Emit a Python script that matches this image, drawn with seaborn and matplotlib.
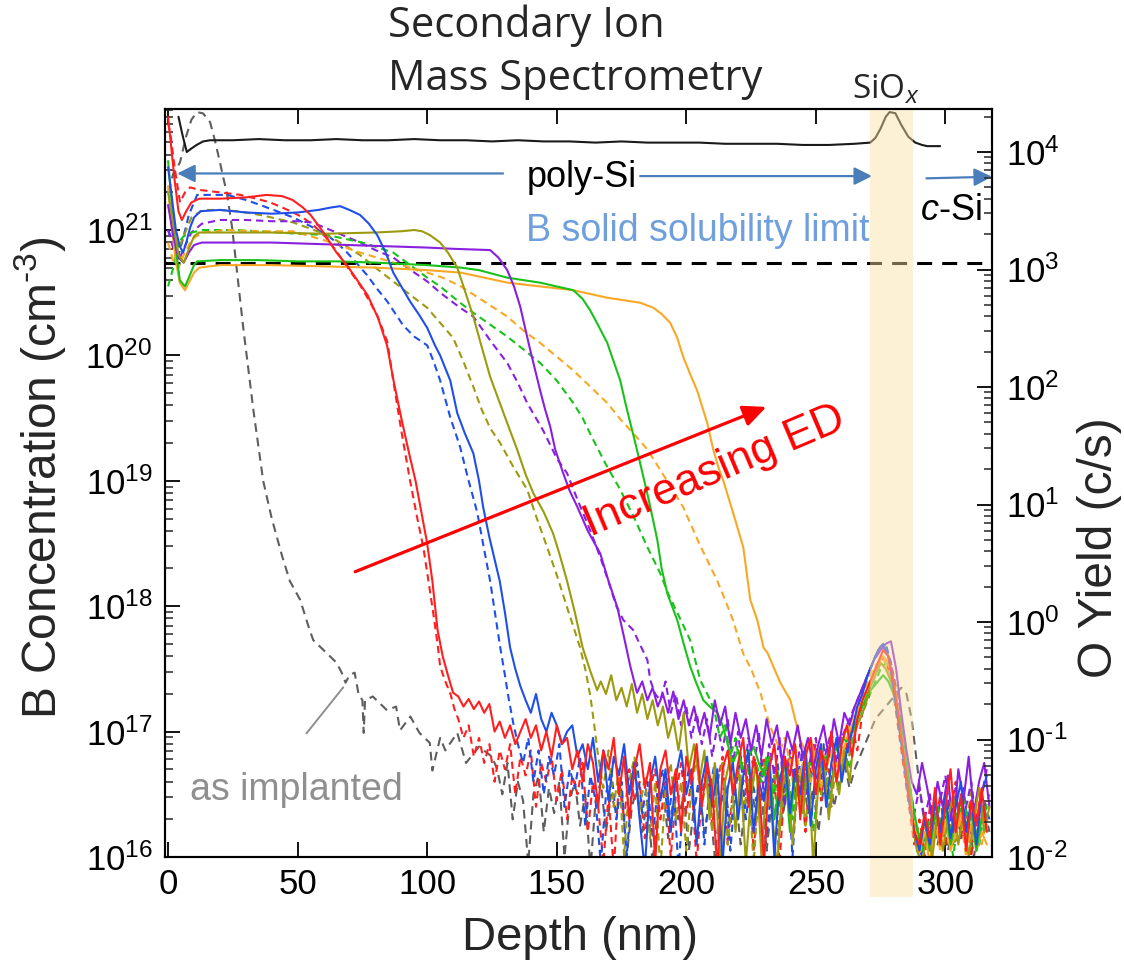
import numpy as np
import pandas as pd
import matplotlib
matplotlib.use("Agg")
import matplotlib.pyplot as plt
import matplotlib.transforms as mtransforms
from matplotlib.patches import Rectangle
from matplotlib.ticker import FixedLocator, NullFormatter, NullLocator, FuncFormatter
import seaborn as sns

# ---------------------------------------------------------------------------
# SIMS boron depth profiles.  Each profile: depth (nm) and log10 of the
# B concentration (cm^-3) through the diffusion front, followed by the
# noise-floor tail sampled every TAIL_STEP nm from the given start depth.
# ---------------------------------------------------------------------------
TAIL_STEP = 2.0

red_solid_depth = [0, 1, 2.5, 4, 5.3, 7, 9, 12, 20, 30, 38, 44, 48, 52, 55, 60, 65, 69, 73, 77,
                   81, 84.5, 87, 90, 93, 95.5, 98, 100, 102, 104, 106, 108, 110, 112]
red_solid_log = [21.90, 21.70, 21.40, 21.15, 21.08, 21.15, 21.22, 21.25, 21.25, 21.26,
                 21.28, 21.27, 21.24, 21.18, 21.12, 20.98, 20.82, 20.72, 20.60, 20.48,
                 20.30, 20.08, 19.80, 19.50, 19.22, 19.00, 18.72, 18.50, 18.20, 17.81,
                 17.60, 17.45, 17.31, 17.28]
red_solid_tail_start = 114
red_solid_tail = [17.20, 17.26, 17.18, 17.24, 17.15, 17.22, 17.00, 17.08, 16.95, 17.05,
                  16.90, 17.00, 17.10, 16.95, 17.05, 16.85, 17.00, 16.80, 17.05, 16.90,
                  16.95, 16.70, 16.85, 16.60, 16.90, 16.75, 16.40, 16.85, 16.70, 16.95,
                  16.50, 16.80, 16.30, 16.70, 16.90, 16.55, 16.75, 15.95, 16.70, 16.85,
                  16.50, 16.70, 16.20, 16.80, 16.60, 16.90, 16.40, 16.75, 16.55, 15.90,
                  16.70, 16.85, 16.50, 16.75, 16.95, 16.40, 16.80, 16.60, 15.95, 16.70,
                  16.90, 16.45, 16.80, 16.65, 16.90, 16.30, 16.80, 16.95, 16.50, 16.85,
                  16.70, 17.00, 16.60, 16.90, 17.05, 16.80, 17.10, 17.25, 17.35, 17.45,
                  17.55, 17.65, 17.60, 17.40, 17.10, 16.80, 16.50, 16.20, 16.10, 16.35,
                  16.15, 16.55, 16.10, 16.40, 16.70, 16.20, 16.50, 16.05, 16.45, 16.25,
                  16.55, 16.20]

red_dash_depth = [0, 1, 2.5, 4.6, 6.5, 8.5, 12, 20, 28, 34, 39.4, 44, 48.3, 52, 56, 61, 65.3,
                  70, 74.1, 77.5, 80.7, 84.6, 86.9, 90, 93.4, 96, 98.5, 100.5, 102.3, 104,
                  105, 107, 109, 110.5]
red_dash_log = [21.85, 21.75, 21.50, 21.22, 21.30, 21.34, 21.32, 21.30, 21.28, 21.25,
                21.22, 21.18, 21.14, 21.10, 21.04, 20.94, 20.82, 20.68, 20.56, 20.44,
                20.32, 20.11, 19.80, 19.40, 19.00, 18.72, 18.47, 18.20, 17.95, 17.70,
                17.52, 17.40, 17.30, 17.18]
red_dash_tail_start = 112
red_dash_tail = [17.10, 16.95, 17.05, 16.80, 16.95, 16.75, 16.90, 16.60, 16.85, 16.70,
                 16.90, 16.50, 16.80, 16.65, 16.85, 16.40, 16.75, 16.60, 16.80, 16.45,
                 16.70, 16.30, 16.65, 16.50, 16.75, 16.20, 16.60, 16.40, 15.95, 16.50,
                 15.90, 16.60, 16.30, 16.70, 16.45, 16.60, 16.15, 16.55, 16.70, 16.30,
                 16.60, 16.00, 16.50, 16.75, 16.35, 16.60, 15.95, 16.50, 16.70, 16.25,
                 16.60, 16.80, 16.10, 16.55, 16.70, 16.35, 16.75, 16.05, 16.60, 16.80,
                 16.40, 16.65, 15.95, 16.60, 16.85, 16.50, 16.70, 16.20, 16.75, 16.90,
                 16.45, 16.80, 16.60, 16.95, 16.70, 16.90, 17.05, 16.85, 17.15, 17.30,
                 17.40, 17.50, 17.60, 17.50, 17.30, 17.00, 16.70, 16.40, 16.10, 16.30,
                 16.00, 16.40, 16.20, 16.50, 16.10, 16.35, 16.60, 16.15, 16.40, 16.00,
                 16.35, 16.50, 16.20]

blue_solid_depth = [0, 1.5, 3, 4.5, 5.8, 7, 8.5, 10, 12.5, 20, 30, 40, 50, 58, 63, 66.4, 70,
                    74.1, 77.5, 80.7, 84, 86.9, 90, 93.4, 97, 100, 103, 105, 108.9, 111.6,
                    114.5, 117.8, 120, 121.6, 124, 128, 130, 132, 134, 136]
blue_solid_log = [21.50, 21.25, 21.00, 20.87, 20.82, 20.90, 21.02, 21.10, 21.15, 21.16,
                  21.14, 21.13, 21.14, 21.16, 21.18, 21.19, 21.16, 21.12, 21.05, 20.96,
                  20.82, 20.66, 20.55, 20.43, 20.32, 20.22, 20.08, 20.00, 19.80, 19.54,
                  19.38, 19.22, 19.00, 18.79, 18.55, 18.20, 17.95, 17.67, 17.50, 17.36]
blue_solid_tail_start = 138
blue_solid_tail = [17.25, 17.15, 17.30, 17.10, 17.00, 17.15, 17.05, 16.90, 17.00, 17.05,
                   16.80, 16.90, 16.70, 16.95, 16.60, 16.85, 16.45, 16.80, 16.65, 16.90,
                   16.50, 16.75, 16.30, 15.90, 16.60, 16.80, 16.45, 16.70, 16.20, 16.65,
                   16.85, 16.50, 16.70, 16.10, 16.60, 16.80, 16.40, 16.70, 15.95, 16.55,
                   16.75, 16.30, 16.65, 16.85, 16.20, 16.60, 16.45, 16.75, 16.00, 16.60,
                   16.80, 16.35, 16.70, 16.50, 16.85, 16.25, 16.70, 16.90, 16.40, 16.75,
                   16.95, 16.60, 16.85, 17.00, 17.20, 17.30, 17.45, 17.55, 17.65, 17.70,
                   17.60, 17.35, 17.05, 16.75, 16.45, 16.20, 16.05, 16.30, 16.10, 16.45,
                   16.20, 16.50, 16.15, 16.40, 16.60, 16.20, 16.45, 16.10, 16.50, 16.65]

blue_dash_depth = [0, 2, 4, 6, 8, 11.2, 16, 22.8, 30, 35.5, 42, 48.3, 55, 61.4, 65, 69.1, 73,
                   76.8, 80.7, 84.6, 87.5, 90.7, 95, 100, 102.5, 105, 109, 112.7, 116, 119.3,
                   122, 124.3, 126.5, 128.2, 130, 131.3, 133.2]
blue_dash_log = [21.00, 20.90, 20.80, 20.95, 21.12, 21.28, 21.28, 21.28, 21.24, 21.20,
                 21.15, 21.10, 21.03, 20.96, 20.90, 20.82, 20.73, 20.64, 20.53, 20.43,
                 20.34, 20.24, 20.15, 20.08, 19.95, 19.80, 19.50, 19.27, 19.00, 18.75,
                 18.45, 18.20, 17.90, 17.67, 17.45, 17.28, 17.07]
blue_dash_tail_start = 135
blue_dash_tail = [16.90, 16.75, 16.95, 16.60, 16.85, 16.50, 16.80, 16.65, 16.90, 16.40,
                  16.70, 16.55, 16.80, 16.25, 16.65, 16.45, 15.95, 16.50, 16.70, 16.30,
                  16.60, 16.00, 16.55, 16.75, 16.35, 16.60, 16.15, 16.55, 16.70, 16.30,
                  16.60, 15.90, 16.50, 16.70, 16.35, 16.65, 16.10, 16.55, 16.75, 16.40,
                  16.60, 16.05, 16.55, 16.80, 16.30, 16.65, 16.45, 16.75, 16.15, 16.60,
                  16.80, 16.40, 16.70, 16.00, 16.65, 16.85, 16.45, 16.75, 16.55, 16.90,
                  16.35, 16.75, 16.95, 16.70, 16.90, 17.10, 17.25, 17.40, 17.50, 17.60,
                  17.68, 17.70, 17.55, 17.30, 17.00, 16.70, 16.40, 16.15, 16.00, 16.25,
                  16.05, 16.40, 16.15, 16.45, 16.10, 16.35, 16.55, 16.20, 16.40, 16.10,
                  16.45, 16.30]

olive_solid_depth = [0, 2, 4, 6, 8, 10, 12, 20, 40, 60, 80, 90, 95, 98, 101, 105, 108, 111.6,
                     114, 117.8, 121, 124.3, 127.5, 130.9, 134.7, 138, 141, 145, 148.6, 151,
                     154, 157, 160, 163, 165.6]
olive_solid_log = [21.30, 21.05, 20.80, 20.74, 20.85, 20.95, 20.98, 20.98, 20.98, 20.97,
                   20.98, 20.99, 21.00, 20.99, 20.96, 20.90, 20.82, 20.70, 20.55, 20.31,
                   20.07, 19.83, 19.65, 19.46, 19.25, 19.05, 18.90, 18.75, 18.58, 18.42,
                   18.20, 17.95, 17.67, 17.48, 17.33]
olive_solid_tail_start = 167
olive_solid_tail = [17.40, 17.30, 17.45, 17.25, 17.35, 17.20, 17.38, 17.15, 17.30, 17.10,
                    17.25, 17.05, 17.20, 16.95, 17.10, 16.85, 17.15, 16.70, 16.90, 16.60,
                    16.85, 16.30, 16.75, 15.90, 16.60, 16.80, 16.20, 16.65, 15.95, 16.50,
                    16.75, 16.00, 16.60, 16.40, 15.90, 16.55, 16.70, 16.10, 16.60, 16.35,
                    16.75, 15.95, 16.60, 16.80, 16.30, 16.70, 16.50, 16.85, 16.60, 17.00,
                    17.10, 17.20, 17.35, 17.45, 17.55, 17.50, 17.40, 17.20, 16.95, 16.60,
                    16.30, 16.05, 15.95, 16.20, 16.00, 16.35, 16.05, 16.30, 16.50, 16.10,
                    16.35, 16.00, 16.30, 16.55, 16.20, 16.40]

olive_dash_depth = [0, 2, 4, 6, 9, 13.5, 20, 27, 35.5, 42, 48.3, 55, 61.4, 68, 74.1, 80, 86.9,
                    93, 100, 105, 110, 114, 117.8, 121, 124.3, 128.2, 133, 138.6, 142, 146.3,
                    150, 154, 157, 159, 161, 163, 164.5]
olive_dash_log = [21.20, 21.00, 20.85, 20.95, 21.10, 21.16, 21.16, 21.15, 21.12, 21.09,
                  21.06, 21.01, 20.96, 20.88, 20.80, 20.70, 20.59, 20.49, 20.38, 20.26,
                  20.14, 19.95, 19.75, 19.57, 19.42, 19.30, 19.12, 18.93, 18.72, 18.47,
                  18.25, 17.99, 17.80, 17.67, 17.50, 17.28, 17.05]
olive_dash_tail_start = 166
olive_dash_tail = [16.80, 16.55, 16.85, 16.40, 16.70, 16.00, 16.60, 16.80, 16.35, 16.65,
                   16.15, 16.60, 15.90, 16.55, 16.75, 16.30, 16.60, 16.05, 16.55, 16.80,
                   16.40, 16.65, 16.20, 16.60, 16.75, 16.10, 16.50, 16.70, 16.35, 16.60,
                   15.95, 16.55, 16.75, 16.40, 16.65, 16.20, 16.60, 16.80, 16.45, 16.70,
                   16.25, 16.65, 16.85, 16.50, 16.75, 16.40, 16.80, 16.95, 16.70, 16.95,
                   17.10, 17.25, 17.35, 17.45, 17.55, 17.60, 17.55, 17.45, 17.25, 16.95,
                   16.60, 16.30, 16.10, 16.35, 16.05, 16.40, 16.15, 16.50, 16.25, 16.10,
                   16.45, 16.20, 16.55, 16.15, 16.40, 16.25]

purple_solid_depth = [0, 2, 4, 6, 8, 10, 13, 25, 40, 55, 70, 85, 100, 110, 124.3, 127.5, 130.9,
                      133.5, 135.9, 138, 139.8, 141.7, 143.6, 145.5, 147.5, 149.4, 152.5, 155,
                      158, 162, 166.8, 170, 173.4, 176, 178.4, 181]
purple_solid_log = [21.20, 20.95, 20.78, 20.74, 20.82, 20.88, 20.90, 20.90, 20.90, 20.89,
                    20.88, 20.87, 20.86, 20.85, 20.84, 20.78, 20.68, 20.55, 20.39, 20.20,
                    20.04, 19.88, 19.72, 19.57, 19.43, 19.25, 19.06, 18.92, 18.79, 18.60,
                    18.42, 18.20, 17.99, 17.75, 17.52, 17.31]
purple_solid_tail_start = 183
purple_solid_tail = [17.40, 17.25, 17.35, 17.20, 17.30, 17.15, 17.32, 17.10, 17.25, 17.05,
                     17.20, 17.00, 17.15, 16.95, 17.25, 17.05, 17.20, 16.90, 17.15, 16.95,
                     17.10, 16.85, 17.05, 16.80, 17.10, 16.90, 17.05, 16.75, 17.00, 16.85,
                     17.05, 16.80, 16.95, 16.70, 16.90, 17.05, 16.80, 17.10, 16.90, 17.15,
                     17.05, 17.20, 17.30, 17.40, 17.50, 17.60, 17.65, 17.70, 17.72, 17.50,
                     17.15, 16.85, 16.60, 16.50, 16.75, 16.55, 16.30, 16.60, 16.40, 16.65,
                     16.20, 16.70, 16.45, 16.80, 16.35, 16.60, 16.75, 16.40]

purple_dash_depth = [0, 2, 4, 6, 9, 13, 20, 30, 40, 50, 55.6, 65, 74.1, 80, 86.9, 93, 100, 105,
                     112.7, 117.8, 125, 130.9, 135, 138.6, 144.8, 150, 154, 158, 163, 167,
                     170.7, 173, 175.7, 179.5, 182, 185, 186.1, 188]
purple_dash_log = [21.00, 20.85, 20.75, 20.85, 20.98, 21.05, 21.08, 21.08, 21.07, 21.07,
                   21.06, 20.98, 20.90, 20.84, 20.78, 20.69, 20.59, 20.50, 20.38, 20.31,
                   20.10, 19.94, 19.78, 19.62, 19.40, 19.18, 19.06, 18.85, 18.60, 18.38,
                   18.15, 18.00, 17.89, 17.81, 17.70, 17.57, 17.41, 17.30]
purple_dash_tail_start = 190
purple_dash_tail = [17.25, 17.40, 17.15, 17.30, 17.05, 17.20, 16.95, 17.15, 16.90, 17.10,
                    16.80, 17.05, 16.85, 17.10, 16.75, 17.00, 16.60, 16.95, 16.70, 17.00,
                    16.50, 16.90, 16.65, 16.95, 16.40, 16.85, 16.60, 16.90, 16.50, 16.80,
                    16.95, 16.60, 16.85, 17.00, 16.75, 16.95, 17.05, 17.15, 17.25, 17.35,
                    17.45, 17.55, 17.62, 17.68, 17.60, 17.45, 17.20, 16.90, 16.60, 16.35,
                    16.55, 16.30, 16.50, 16.20, 16.45, 16.65, 16.30, 16.55, 16.15, 16.40,
                    16.60, 16.25, 16.50, 16.70]

green_solid_depth = [0, 1.5, 3, 4.5, 6.5, 8, 10, 11.2, 20, 35, 50, 65, 80, 100, 113, 120,
                     130.9, 143.6, 150, 156.4, 160, 162.9, 166, 169.5, 172, 174.5, 176.5,
                     178.4, 180, 182.2, 185.5, 188.8, 190.5, 192.7, 196.5, 199, 201.5, 204,
                     206.6, 209, 212]
green_solid_log = [21.55, 21.20, 20.85, 20.60, 20.55, 20.62, 20.72, 20.75, 20.76, 20.76,
                   20.75, 20.75, 20.74, 20.72, 20.70, 20.68, 20.62, 20.58, 20.55, 20.52,
                   20.45, 20.36, 20.24, 20.10, 19.95, 19.80, 19.62, 19.46, 19.33, 19.14,
                   18.85, 18.53, 18.30, 18.10, 17.89, 17.70, 17.52, 17.38, 17.25, 17.20,
                   17.15]
green_solid_tail_start = 214
green_solid_tail = [17.05, 16.90, 16.75, 16.85, 16.70, 16.80, 16.88, 16.75, 16.65, 16.80,
                    16.30, 16.60, 16.75, 16.20, 16.70, 16.50, 16.65, 16.75, 16.70, 16.82,
                    16.78, 16.90, 16.85, 16.95, 16.92, 17.00, 17.10, 17.20, 17.30, 17.35,
                    17.40, 17.45, 17.40, 17.30, 17.15, 16.95, 16.60, 16.35, 16.15, 16.30,
                    16.05, 16.35, 16.20, 16.40, 16.10, 16.30, 16.45, 16.15, 16.35, 16.05,
                    16.30, 16.40]

green_dash_depth = [0, 2, 4, 6, 9, 13.5, 25, 35.5, 50, 61.4, 75, 86.9, 100, 105, 112.7, 117.8,
                    124, 130.9, 137, 143.6, 150, 156.4, 160, 164, 169, 174.5, 180, 185, 190,
                    193, 196.5, 201.5, 205.4, 209.3]
green_dash_log = [20.55, 20.70, 20.90, 20.95, 20.98, 21.00, 21.00, 20.99, 20.97, 20.96,
                  20.90, 20.82, 20.62, 20.55, 20.42, 20.34, 20.25, 20.15, 20.05, 19.94,
                  19.80, 19.62, 19.50, 19.33, 19.13, 18.93, 18.70, 18.47, 18.26, 18.10,
                  17.95, 17.73, 17.41, 17.25]
green_dash_tail_start = 211
green_dash_tail = [17.15, 16.95, 17.05, 16.80, 16.95, 16.70, 16.85, 16.50, 16.75, 16.60,
                   16.80, 16.40, 16.70, 16.55, 16.75, 16.30, 16.65, 16.50, 16.70, 16.20,
                   16.60, 16.75, 16.45, 16.70, 16.55, 16.85, 16.70, 17.00, 17.10, 17.20,
                   17.30, 17.40, 17.50, 17.55, 17.45, 17.30, 17.05, 16.75, 16.45, 16.20,
                   16.05, 16.30, 16.10, 16.40, 16.15, 16.35, 16.00, 16.30, 16.50, 16.20,
                   16.40, 16.10, 16.35, 16.50]

orange_solid_depth = [0, 1.5, 3, 4.5, 6.5, 8, 10, 12, 20, 40, 60, 80, 100, 113, 131, 156.4,
                      169.5, 182.2, 187.3, 190.5, 193.8, 196.5, 198.8, 201.5, 204.2, 206,
                      208.1, 210.4, 212.5, 214.3, 218, 222, 224.7, 227.4, 229.8, 231.3, 234,
                      236.3, 240.2, 242, 244]
orange_solid_log = [21.35, 21.00, 20.75, 20.58, 20.52, 20.58, 20.66, 20.70, 20.72, 20.72,
                    20.71, 20.70, 20.68, 20.66, 20.58, 20.52, 20.46, 20.42, 20.38, 20.33,
                    20.26, 20.14, 19.99, 19.85, 19.72, 19.60, 19.46, 19.25, 19.10, 19.00,
                    18.75, 18.47, 18.05, 17.89, 17.67, 17.63, 17.50, 17.39, 17.25, 17.10,
                    16.93]
orange_solid_tail_start = 246
orange_solid_tail = [16.85, 16.95, 16.75, 16.90, 16.70, 16.85, 16.60, 16.80, 16.95, 17.05,
                     17.15, 17.25, 17.35, 17.45, 17.55, 17.60, 17.55, 17.40, 17.15, 16.85,
                     16.50, 16.25, 16.05, 16.20, 15.95, 16.25, 16.10, 16.30, 16.05, 16.20,
                     16.35, 16.10, 16.25, 16.05, 16.20, 16.10]

orange_dash_depth = [0, 2, 4, 6, 9, 13, 22.8, 35, 48.3, 60, 74.1, 87, 100, 106, 113, 122, 130.9,
                     137, 143.6, 150, 156.4, 163, 169.5, 175, 179.5, 185, 188, 192, 198.8, 205,
                     212, 215, 218, 222, 225, 228.6, 232.4, 236.3]
orange_dash_log = [20.90, 20.75, 20.70, 20.80, 20.92, 20.98, 21.00, 20.99, 20.99, 20.92,
                   20.82, 20.74, 20.66, 20.62, 20.55, 20.43, 20.31, 20.20, 20.10, 19.99,
                   19.88, 19.75, 19.62, 19.48, 19.38, 19.25, 19.15, 19.02, 18.79, 18.50,
                   18.20, 18.05, 17.89, 17.62, 17.50, 17.31, 17.04, 16.85]
orange_dash_tail_start = 238
orange_dash_tail = [16.95, 16.75, 16.90, 16.65, 16.85, 16.60, 16.80, 16.55, 16.75, 16.85,
                    16.70, 16.90, 17.00, 17.10, 17.20, 17.30, 17.40, 17.50, 17.55, 17.58,
                    17.50, 17.35, 17.10, 16.80, 16.45, 16.20, 16.00, 16.25, 16.10, 16.35,
                    16.05, 16.25, 16.40, 16.15, 16.30, 16.00, 16.25, 16.40, 16.10, 16.30]

implant_depth = [0, 2, 4.6, 7, 9, 11.2, 13.5, 16.2, 18, 20, 22.8, 24.7, 26.6, 29, 33, 36.7, 40,
                 44, 47, 51, 54, 56, 61, 65, 67, 68.5, 70, 72, 73.5, 75, 75.5, 76, 79, 84.5,
                 88, 89.5, 93.5, 97, 101, 102, 105, 107, 111.6, 115, 120, 125]
implant_log = [21.30, 21.45, 21.54, 21.75, 21.88, 21.94, 21.93, 21.86, 21.72, 21.54,
               21.28, 21.02, 20.67, 20.22, 19.55, 19.00, 18.70, 18.40, 18.20, 18.05,
               17.85, 17.73, 17.63, 17.55, 17.47, 17.39, 17.45, 17.47, 17.30, 17.25,
               16.99, 17.25, 17.28, 17.17, 17.20, 17.01, 17.12, 16.99, 16.91, 16.69,
               16.95, 16.85, 16.99, 16.75, 16.88, 16.80]
implant_tail_start = 127
implant_tail = [16.70, 16.50, 16.75, 16.30, 16.60, 16.45, 15.95, 16.50, 16.65, 16.20,
                16.55, 16.35, 16.60, 16.00, 16.45, 16.60, 16.25, 16.50, 15.90, 16.45,
                16.60, 16.20, 16.50, 16.35, 16.55, 16.00, 16.40, 16.55, 16.20, 16.45,
                15.95, 16.40, 16.55, 16.15, 16.45, 16.30, 16.50, 16.05, 16.40, 16.55,
                16.20, 16.45, 16.00, 16.40, 16.55, 16.25, 16.50, 16.10, 16.45, 16.60,
                16.30, 16.50, 16.05, 16.45, 16.60, 16.30, 16.55, 16.15, 16.50, 16.65,
                16.35, 16.55, 16.20, 16.55, 16.70, 16.40, 16.60, 16.75, 16.55, 16.70,
                16.80, 16.90, 17.00, 17.10, 17.15, 17.20, 17.25, 17.30, 17.35, 17.30,
                17.10, 16.75, 16.40, 16.15, 16.35, 16.10, 16.30, 16.05, 16.25, 16.40,
                16.15, 16.30, 16.00, 16.25, 16.40, 16.20]

# O secondary-ion yield (counts/s), log10, right axis
oxygen_depth = [4.0, 5.5, 7.2, 9, 11, 13.5, 16.2, 25, 35, 45, 55, 65, 75, 85, 95, 105, 115, 125,
                135, 145, 155, 165, 175, 185, 195, 205, 215, 225, 235, 245, 255, 265, 271, 273,
                275, 277, 278.5, 280.7, 283, 285.7, 288.4, 291, 293, 298]
oxygen_log = [4.30, 4.15, 4.00, 4.03, 4.06, 4.09, 4.10, 4.10, 4.11, 4.10,
              4.10, 4.11, 4.10, 4.10, 4.11, 4.10, 4.10, 4.09, 4.10, 4.09,
              4.09, 4.08, 4.09, 4.08, 4.08, 4.08, 4.07, 4.07, 4.07, 4.06,
              4.06, 4.07, 4.08, 4.12, 4.20, 4.30, 4.34, 4.33, 4.23, 4.13,
              4.08, 4.06, 4.05, 4.05]

SOLUBILITY_LIMIT = 5.45e20          # B solid solubility in Si (cm^-3)
SIOX_RANGE = (271.0, 287.6)         # interfacial oxide depth range (nm)
B_DECADES = [16, 17, 18, 19, 20, 21]
O_DECADES = [-2, -1, 0, 1, 2, 3, 4]

RED, BLUE, OLIVE = "#ff1f1f", "#1f4fe8", "#9c9a0e"
PURPLE, GREEN, ORANGE = "#8a1fe0", "#19c219", "#f9a825"
IMPLANT_GRAY = "#5e5e5e"
ARROW_BLUE = "#4a7ebb"
LIMIT_BLUE = "#6fa0dd"
LABEL_GRAY = "#8f8f8f"


def profile_frame(depth, logc, tail_start, tail_logc):
    d = list(depth) + [tail_start + TAIL_STEP * i for i in range(len(tail_logc))]
    c = [10.0 ** v for v in list(logc) + list(tail_logc)]
    return pd.DataFrame({"depth": d, "conc": c})


def pow10_label(value, _pos):
    exp = int(round(np.log10(value)))
    if exp < 0:
        return r"$\mathdefault{10^{\text{-}%d}}$" % (-exp)
    return r"$\mathdefault{10^{%d}}$" % exp


def minor_positions(decades, lo, hi):
    out = []
    for e in decades + [decades[0] - 1]:
        for m in range(2, 10):
            v = m * 10.0 ** e
            if lo < v < hi:
                out.append(v)
    return sorted(out)


DASH = (0, (3.5, 2.3))
series = [
    (implant_depth, implant_log, implant_tail_start, implant_tail, IMPLANT_GRAY, (0, (4.2, 2.8))),
    (red_dash_depth, red_dash_log, red_dash_tail_start, red_dash_tail, RED, DASH),
    (blue_dash_depth, blue_dash_log, blue_dash_tail_start, blue_dash_tail, BLUE, DASH),
    (olive_dash_depth, olive_dash_log, olive_dash_tail_start, olive_dash_tail, OLIVE, DASH),
    (purple_dash_depth, purple_dash_log, purple_dash_tail_start, purple_dash_tail, PURPLE, DASH),
    (green_dash_depth, green_dash_log, green_dash_tail_start, green_dash_tail, GREEN, DASH),
    (orange_dash_depth, orange_dash_log, orange_dash_tail_start, orange_dash_tail, ORANGE, DASH),
    (orange_solid_depth, orange_solid_log, orange_solid_tail_start, orange_solid_tail, ORANGE, "-"),
    (green_solid_depth, green_solid_log, green_solid_tail_start, green_solid_tail, GREEN, "-"),
    (purple_solid_depth, purple_solid_log, purple_solid_tail_start, purple_solid_tail, PURPLE, "-"),
    (olive_solid_depth, olive_solid_log, olive_solid_tail_start, olive_solid_tail, OLIVE, "-"),
    (blue_solid_depth, blue_solid_log, blue_solid_tail_start, blue_solid_tail, BLUE, "-"),
    (red_solid_depth, red_solid_log, red_solid_tail_start, red_solid_tail, RED, "-"),
]

# ---------------------------------------------------------------------------
sns.set_theme(style="ticks")
plt.rcParams["font.family"] = ["Liberation Sans", "DejaVu Sans"]
plt.rcParams["mathtext.fontset"] = "custom"
plt.rcParams["mathtext.rm"] = "Liberation Sans"
plt.rcParams["mathtext.it"] = "Liberation Sans:italic"
plt.rcParams["mathtext.bf"] = "Liberation Sans:bold"
plt.rcParams["mathtext.sf"] = "Liberation Sans"

W, H = 1124, 965
fig = plt.figure(figsize=(W / 100, H / 100), dpi=100)
fig.patch.set_facecolor("white")
L, R, T, B = 165, 992, 109, 857
ax = fig.add_axes([L / W, 1 - B / H, (R - L) / W, (B - T) / H])
ax2 = ax.twinx()

for depth, logc, t0, tail, color, ls in series:
    df = profile_frame(depth, logc, t0, tail)
    sns.lineplot(data=df, x="depth", y="conc", ax=ax, color=color, linestyle=ls,
                 linewidth=1.5, estimator=None, sort=False, errorbar=None, legend=False)

ax.axhline(SOLUBILITY_LIMIT, color="black", linewidth=2.2, linestyle=(0, (4.9, 3.3)), zorder=1.9)

oxy = pd.DataFrame({"depth": oxygen_depth, "yield": [10.0 ** v for v in oxygen_log]})
sns.lineplot(data=oxy, x="depth", y="yield", ax=ax2, color="#1a1a1a", linewidth=1.5,
             estimator=None, sort=False, errorbar=None, legend=False)

# axes scales and limits
ax.set_yscale("log")
ax2.set_yscale("log")
B_LIM = (1e16, 10 ** 21.965)
O_LIM = (1e-2, 10 ** 4.366)
ax.set_xlim(-1.2, 318)
ax.set_ylim(*B_LIM)
ax2.set_ylim(*O_LIM)
for a in (ax, ax2):
    a.set_xlabel("")
    a.set_ylabel("")
    a.xaxis.label.set_visible(False)
    a.yaxis.label.set_visible(False)
    a.xaxis.get_offset_text().set_visible(False)
    a.yaxis.get_offset_text().set_visible(False)

ax.set_xticks([0, 50, 100, 150, 200, 250, 300])
ax.xaxis.set_minor_locator(NullLocator())
for a, decades, lim in ((ax, B_DECADES, B_LIM), (ax2, O_DECADES, O_LIM)):
    a.yaxis.set_major_locator(FixedLocator([10.0 ** e for e in decades]))
    a.yaxis.set_major_formatter(FuncFormatter(pow10_label))
    a.yaxis.set_minor_locator(FixedLocator(minor_positions(decades, *lim)))
    a.yaxis.set_minor_formatter(NullFormatter())
    for s in a.spines.values():
        s.set_linewidth(1.5)
        s.set_color("black")

ax.tick_params(axis="x", which="major", direction="in", length=11, width=1.3,
               top=True, bottom=True, labelsize=25, pad=8, colors="black")
ax.tick_params(axis="y", which="major", direction="in", length=11, width=1.3,
               left=True, right=False, labelsize=25, pad=9, colors="black")
ax.tick_params(axis="y", which="minor", direction="in", length=6, width=1.1,
               left=True, right=False)
ax2.tick_params(axis="y", which="major", direction="in", length=11, width=1.3,
                right=True, left=False, labelsize=25, pad=10, colors="black")
ax2.tick_params(axis="y", which="minor", direction="in", length=6, width=1.1,
                right=True, left=False)

# SiOx interface band (semi-transparent, reaching below the depth axis)
band = Rectangle((SIOX_RANGE[0], -0.054), SIOX_RANGE[1] - SIOX_RANGE[0], 1.054,
                 transform=mtransforms.blended_transform_factory(ax2.transData, ax2.transAxes),
                 facecolor="#fae1a0", alpha=0.45, linewidth=0, clip_on=False, zorder=2.2)
ax2.add_patch(band)

# annotations
ax.text(159.5, 10 ** 21.345, "poly-Si", ha="center", va="baseline", fontsize=26, color="black", zorder=6)
head_small = "-|>,head_length=0.9,head_width=0.45"
ax.annotate("", xy=(3.5, 10 ** 21.451), xytext=(129.3, 10 ** 21.451),
            arrowprops=dict(arrowstyle=head_small, color=ARROW_BLUE, lw=1.6,
                            mutation_scale=12, shrinkA=0, shrinkB=0))
ax.annotate("", xy=(271.7, 10 ** 21.43), xytext=(182.2, 10 ** 21.43),
            arrowprops=dict(arrowstyle=head_small, color=ARROW_BLUE, lw=1.6,
                            mutation_scale=12, shrinkA=0, shrinkB=0))
ax.annotate("", xy=(318.0, 10 ** 21.425), xytext=(292.7, 10 ** 21.412),
            arrowprops=dict(arrowstyle=head_small, color=ARROW_BLUE, lw=1.6,
                            mutation_scale=12, shrinkA=0, shrinkB=0),
            annotation_clip=False)
ax.text(290.3, 10 ** 21.08, "$c$-Si", ha="left", va="baseline", fontsize=26, color="black", zorder=6)
ax.text(138.2, 10 ** 20.915, "B solid solubility limit", ha="left", va="baseline",
        fontsize=27, color=LIMIT_BLUE, zorder=6)

ax.annotate("", xy=(230.9, 10 ** 19.589), xytext=(72.2, 10 ** 18.275),
            arrowprops=dict(arrowstyle="-|>,head_length=0.7,head_width=0.32", color="#ff0000",
                            lw=2.3, mutation_scale=20, shrinkA=0, shrinkB=0))
ax.text(162.9, 10 ** 18.552, "Increasing ED", color="#ff0000", fontsize=32, rotation=23,
        rotation_mode="anchor", ha="left", va="baseline", zorder=6)

ax.text(8.5, 10 ** 16.455, "as implanted", color=LABEL_GRAY, fontsize=27, ha="left",
        va="baseline", zorder=6)
ax.annotate("", xy=(67.6, 10 ** 17.353), xytext=(53.4, 10 ** 16.986),
            arrowprops=dict(arrowstyle="-", color=LABEL_GRAY, lw=1.4, shrinkA=0, shrinkB=0))

# headings and axis titles
fig.text(388 / W, 1 - 37 / H, "Secondary Ion", family=["Open Sans", "DejaVu Sans"],
         fontsize=30, ha="left", va="baseline")
fig.text(388 / W, 1 - 90 / H, "Mass Spectrometry", family=["Open Sans", "DejaVu Sans"],
         fontsize=30, ha="left", va="baseline")
fig.text(886 / W, 1 - 99 / H, "SiO$_{x}$", family=["Open Sans", "DejaVu Sans"],
         fontsize=24, ha="center", va="baseline")

fig.text(40 / W, 1 - 478 / H, r"B Concentration (cm$^{\text{-}3}$)", rotation=90, ha="center",
         va="center", fontsize=34.5)
fig.text(1100 / W, 1 - 548 / H, "O Yield (c/s)", rotation=90, ha="center", va="center",
         fontsize=34.5)
fig.text(580 / W, 1 - 950 / H, "Depth (nm)", ha="center", va="baseline", fontsize=34)

fig.savefig("out.png", dpi=100, facecolor="white")
